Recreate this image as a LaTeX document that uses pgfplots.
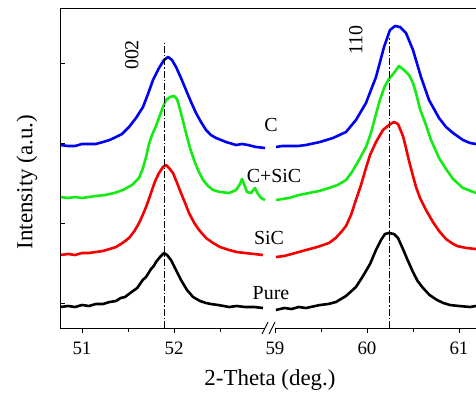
\documentclass[border=0pt]{standalone}
\usepackage{fontspec}
\setmainfont{Liberation Serif}
\usepackage{pgfplots}
\pgfplotsset{compat=1.18}
\definecolor{cblue}{RGB}{0,0,245}
\definecolor{cgreen}{RGB}{20,235,20}
\definecolor{cred}{RGB}{245,0,0}
\begin{document}
\begin{tikzpicture}[x=1bp,y=1bp]
\pgfplotsset{
  common/.style={scale only axis, height=319bp, ymin=66, ymax=385,
    anchor=south west, axis line style={line width=1bp},
    major tick length=5bp, minor tick length=4bp,
    every tick/.style={line width=0.9bp, black},
    /pgf/number format/assume math mode=true,
    xticklabel style={font=\fontsize{19}{19}\selectfont, yshift=-5bp},
    every axis plot/.append style={line width=2.6bp, line join=round}},
}
% ---------- left segment ----------
\begin{axis}[common, at={(60bp,66bp)}, width=210bp, xmin=50.761, xmax=53.043,
  axis x line=box, axis y line*=left, xtick pos=left, tick align=outside,
  xtick={51,52}, minor xtick={51.5,52.5}, ytick=\empty]
\addplot[black] coordinates {
(50.761,87)(50.85,88)(50.924,87)(51.0,89)(51.076,88)(51.15,90)(51.228,90)(51.30,92)(51.370,93)
(51.42,96)(51.467,97)(51.51,100)(51.554,103)(51.60,106)(51.630,110)(51.66,114)(51.696,117)(51.750,125)
(51.78,128)(51.804,132)(51.848,137)(51.891,141)(51.924,139)(51.967,134)(52.0,128)(52.022,124)
(52.076,114)(52.141,104)(52.207,97)(52.283,93)(52.348,91)(52.40,90)(52.478,89)(52.54,88)(52.598,87)
(52.68,88)(52.772,87)(52.87,87)(52.967,86)};
\addplot[cred] coordinates {
(50.761,139)(50.85,140)(50.924,139)(51.0,141)(51.076,141)(51.15,142)(51.228,143)(51.30,145)(51.370,147)
(51.44,151)(51.511,156)(51.57,163)(51.620,171)(51.66,179)(51.696,187)(51.739,198)(51.772,207)
(51.80,214)(51.837,221)(51.880,227)(51.913,229)(51.946,226)(51.989,221)(52.033,211)(52.076,201)
(52.12,191)(52.163,181)(52.22,171)(52.272,164)(52.348,156)(52.424,151)(52.50,147)(52.598,144)
(52.68,142)(52.772,141)(52.87,140)(52.967,139)};
\addplot[cgreen] coordinates {
(50.761,197)(50.85,196)(50.924,197)(51.0,196)(51.076,197)(51.15,198)(51.250,199)(51.35,201)(51.446,204)
(51.543,209)(51.620,216)(51.663,226)(51.696,237)(51.728,250)(51.761,259)(51.804,268)(51.848,279)
(51.880,287)(51.913,294)(51.957,297)(52.000,298)(52.033,295)(52.076,281)(52.130,261)(52.174,246)
(52.217,234)(52.261,224)(52.315,214)(52.37,208)(52.424,204)(52.50,202)(52.598,201)(52.674,204)
(52.717,210)(52.739,215)(52.761,210)(52.793,202)(52.837,201)(52.880,206)(52.913,200)(52.946,196)(52.989,194)};
\addplot[cblue] coordinates {
(50.761,249)(50.85,248)(50.924,248)(51.0,250)(51.076,250)(51.15,250)(51.228,252)(51.30,254)(51.370,257)
(51.435,260)(51.511,267)(51.587,276)(51.663,287)(51.717,300)(51.772,314)(51.837,326)(51.891,334)
(51.935,337)(51.978,334)(52.022,327)(52.076,316)(52.130,304)(52.185,292)(52.239,281)(52.293,272)
(52.348,264)(52.40,259)(52.457,256)(52.565,252)(52.674,249)(52.74,250)(52.804,249)(52.891,247)(52.989,246)};
\draw[black, line width=0.8bp, dash pattern=on 7bp off 2bp on 1.5bp off 2bp] (axis cs:51.89,66) -- (axis cs:51.89,351);
\node[rotate=90, font=\fontsize{20}{20}\selectfont] at (axis cs:51.543,339) {002};
\end{axis}
% ---------- y ticks (inside) ----------
\begin{axis}[common, at={(60bp,66bp)}, width=210bp, xmin=50.761, xmax=53.043,
  hide x axis, axis y line*=left, tick align=inside,
  ytick={91,171,251,331}, yticklabels={}]
\end{axis}
% ---------- right segment ----------
\begin{axis}[common, at={(270bp,66bp)}, width=206bp, xmin=58.946, xmax=61.185,
  axis x line=box, axis y line=none, xtick pos=left, tick align=outside,
  xtick={59,60,61}, minor xtick={59.5,60.5}]
\addplot[black] coordinates {
(59.011,84)(59.10,86)(59.18,85)(59.26,87)(59.337,86)(59.489,89)(59.58,90)(59.663,92)(59.772,98)
(59.880,107)(59.957,118)(60.033,130)(60.098,144)(60.152,154)(60.196,160)(60.239,161)(60.293,160)
(60.337,156)(60.391,145)(60.446,133)(60.500,122)(60.55,113)(60.609,106)(60.68,99)(60.761,94)(60.83,91)(60.902,89)
(61.0,88)(61.120,87)(61.185,88)};
\addplot[cred] coordinates {
(59.011,137)(59.10,138)(59.18,140)(59.26,142)(59.337,144)(59.46,147)(59.587,151)(59.66,156)(59.72,162)(59.772,168)
(59.826,179)(59.880,194)(59.935,209)(59.989,226)(60.033,239)(60.098,252)(60.174,264)(60.239,269)
(60.293,272)(60.337,270)(60.391,258)(60.424,246)(60.457,233)(60.50,218)(60.533,207)(60.576,196)(60.641,184)
(60.717,172)(60.783,163)(60.859,155)(60.92,151)(60.978,148)(61.08,146)(61.185,145)};
\addplot[cgreen] coordinates {
(59.011,194)(59.08,195)(59.152,196)(59.26,199)(59.370,201)(59.48,203)(59.587,206)(59.68,209)(59.772,214)
(59.837,222)(59.913,234)(59.989,247)(60.043,261)(60.098,280)(60.14,294)(60.19,307)(60.239,315)(60.293,321)
(60.348,328)(60.402,324)(60.457,319)(60.500,311)(60.533,301)(60.576,285)(60.641,269)(60.696,254)
(60.783,236)(60.859,225)(60.935,215)(61.043,206)(61.185,201)};
\addplot[cblue] coordinates {
(59.011,247)(59.08,248)(59.163,248)(59.25,248)(59.337,249)(59.489,252)(59.630,256)(59.772,262)(59.880,274)
(59.989,291)(60.098,317)(60.185,347)(60.250,364)(60.304,368)(60.359,367)(60.424,361)(60.500,344)
(60.587,317)(60.674,294)(60.783,276)(60.859,267)(60.935,261)(61.043,254)(61.120,251)(61.185,250)};
\draw[black, line width=0.8bp, dash pattern=on 7bp off 2bp on 1.5bp off 2bp] (axis cs:60.239,66) -- (axis cs:60.239,356);
\node[rotate=90, font=\fontsize{20}{20}\selectfont] at (axis cs:59.880,354) {110};
\end{axis}
% ---------- axis break ----------
\fill[white] (264.5,63) rectangle (274.5,69);
\draw[line width=0.9bp] (262,60) -- (268,72);
\draw[line width=0.9bp] (269,60) -- (275,72);
% ---------- labels ----------
\begin{scope}[font=\fontsize{20}{20}\selectfont]
\node at (271,269) {C};
\node at (274,218) {C+SiC};
\node at (269,156) {SiC};
\node at (271,101) {Pure};
\end{scope}
\node[font=\fontsize{23}{23}\selectfont] at (270,14) {2-Theta (deg.)};
\node[rotate=90, font=\fontsize{23}{23}\selectfont] at (27,212) {Intensity (a.u.)};
\pgfresetboundingbox
\path[use as bounding box] (0,0) rectangle (476,394);
\end{tikzpicture}
\end{document}
